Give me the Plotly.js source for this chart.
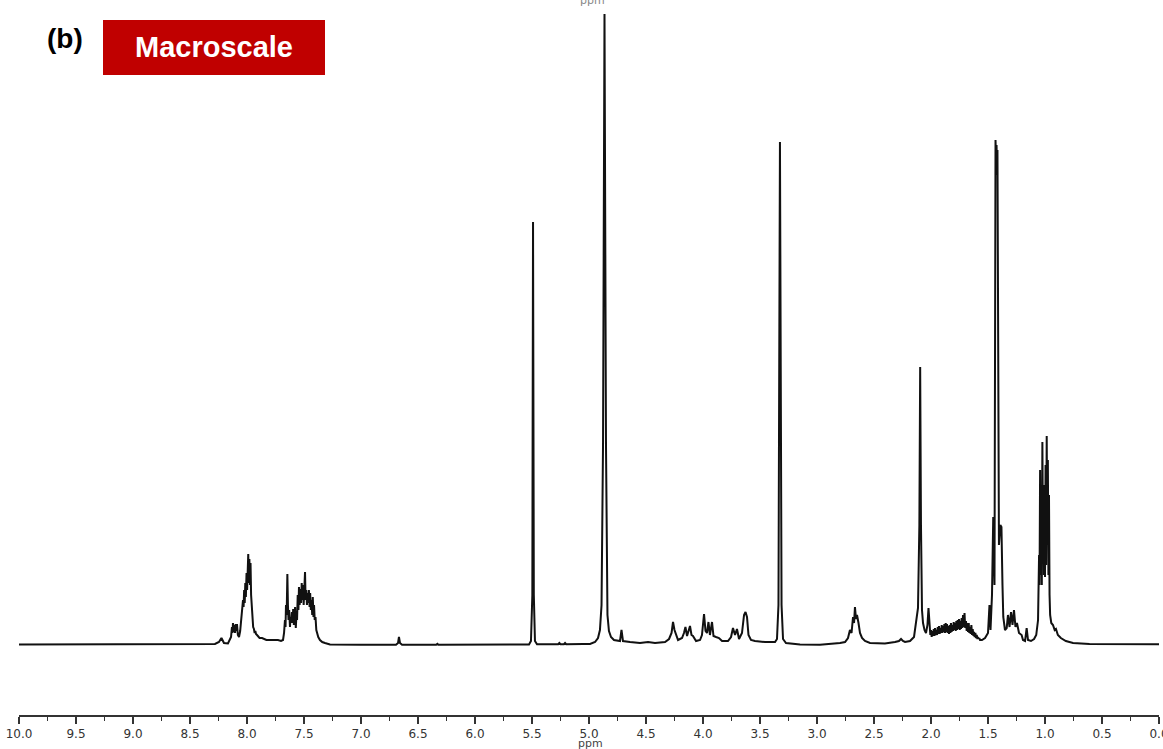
<!DOCTYPE html>
<html>
<head>
<meta charset="utf-8">
<script src="https://cdn.plot.ly/plotly-3.0.1.min.js"></script>
<style>html,body{margin:0;padding:0;background:#fff;}#chart{width:1163px;height:749px;}</style>
</head>
<body>
<div id="chart"></div>
<script>
// Spectrum, as [chemical shift (ppm), intensity (a.u.)], region by region
const baselineHigh = [[10.0,0.5],[9.5,0.5],[9.0,0.3],[8.5,0.5],[8.30,0.5],[8.281,1],[8.246,3],[8.224,7],[8.202,2],[8.167,1.5]];
const aromatic80 = [
[8.140,8],[8.132,18],[8.127,12],[8.123,22],[8.117,13],[8.111,20],[8.105,12],[8.099,21],[8.093,14],[8.088,21],
[8.080,10],[8.070,8],[8.060,14],[8.053,22],[8.047,30],[8.041,37],[8.035,45],[8.030,38],[8.025,55],[8.020,42],
[8.015,62],[8.010,48],[8.004,72],[7.999,55],[7.994,85],[7.989,91],[7.984,62],[7.979,86],[7.974,60],[7.969,82],
[7.964,50],[7.958,35],[7.952,25],[7.946,18],[7.939,16],[7.933,12],[7.927,14],[7.921,11],[7.912,10],[7.904,9],
[7.890,7],[7.868,7],[7.830,5],[7.798,5],[7.728,5],[7.702,4]];
const aromatic75 = [
[7.684,5],[7.675,12],[7.667,25],[7.662,18],[7.658,40],[7.652,30],[7.646,71],[7.641,40],[7.636,25],[7.630,35],
[7.623,18],[7.618,28],[7.612,22],[7.606,33],[7.600,22],[7.595,36],[7.589,20],[7.583,30],[7.578,38],[7.572,17],
[7.566,30],[7.561,25],[7.555,50],[7.549,35],[7.544,58],[7.538,40],[7.532,56],[7.526,42],[7.520,62],[7.514,45],
[7.509,60],[7.503,40],[7.497,65],[7.491,73],[7.486,45],[7.480,55],[7.474,40],[7.469,52],[7.463,42],[7.457,55],
[7.451,38],[7.446,52],[7.440,35],[7.434,45],[7.428,30],[7.423,48],[7.417,28],[7.412,40],[7.406,25],[7.399,28],
[7.392,15],[7.386,12],[7.375,8],[7.360,5],[7.340,3],[7.316,2],[7.272,0.5]];
const midField = [
[7.0,0.3],[6.693,0.3],[6.675,2],[6.667,8],[6.658,2],[6.640,0.3],[6.34,0.3],[6.33,1.2],[6.32,0.3],[6.10,0.3],
[6.09,1],[6.08,0.3],[5.80,0.3],[5.526,0.5],[5.509,4],[5.497,50],[5.491,423],[5.484,50],[5.474,4],[5.456,0.8],
[5.27,0.8],[5.26,2],[5.25,0.8],[5.22,0.8],[5.21,2],[5.20,0.8],[5.05,1],[4.991,1],[4.947,3],[4.921,7],
[4.904,15],[4.890,40],[4.877,200],[4.864,631],[4.851,200],[4.838,30],[4.825,14],[4.807,8],[4.781,5],[4.746,4],
[4.728,4],[4.715,15],[4.702,4],[4.640,3],[4.553,2],[4.482,3],[4.421,2],[4.333,3]];
const multiplets40 = [
[4.298,6],[4.276,12],[4.263,23],[4.250,15],[4.237,10],[4.219,5],[4.184,7],[4.167,12],[4.154,18],[4.140,9],
[4.127,14],[4.114,19],[4.101,10],[4.088,9],[4.061,4],[4.026,5],[4.009,10],[3.991,31],[3.978,14],[3.965,12],
[3.952,23],[3.939,10],[3.921,23],[3.908,9],[3.886,8],[3.860,7],[3.833,4],[3.781,4],[3.754,8],[3.737,17],
[3.719,10],[3.702,16],[3.684,6],[3.658,12],[3.640,30],[3.627,33],[3.614,28],[3.601,10],[3.579,5],[3.544,4],
[3.456,3],[3.368,3],[3.351,6],[3.338,40],[3.325,503],[3.311,40],[3.298,6],[3.272,2],[3.149,0.5],[2.974,0.3]];
const multiplets26 = [
[2.798,2],[2.754,3],[2.728,7],[2.711,15],[2.697,12],[2.684,28],[2.675,22],[2.667,38],[2.658,26],[2.649,30],
[2.636,22],[2.623,12],[2.605,7],[2.579,4],[2.535,2],[2.404,1.5],[2.316,3],[2.281,4],[2.263,6],[2.246,4],
[2.228,3],[2.184,4],[2.149,8],[2.127,25],[2.114,37],[2.102,120],[2.095,278],[2.088,120],[2.079,35],[2.070,22],
[2.057,15],[2.044,12],[2.031,20],[2.022,37]];
const band20to16 = [
[2.013,18],[2.006,10],[2.000,15],[1.994,8],[1.988,14],[1.982,9],[1.976,16],[1.970,9],[1.965,17],[1.959,10],
[1.953,15],[1.947,10],[1.941,18],[1.935,11],[1.930,19],[1.924,11],[1.918,17],[1.912,12],[1.906,20],[1.900,12],
[1.895,19],[1.889,13],[1.883,21],[1.877,12],[1.871,22],[1.865,13],[1.860,21],[1.854,12],[1.848,19],[1.842,11],
[1.836,20],[1.830,12],[1.825,22],[1.819,13],[1.813,20],[1.807,14],[1.801,23],[1.795,15],[1.789,22],[1.783,14],
[1.778,24],[1.772,15],[1.766,25],[1.760,16],[1.754,26],[1.748,15],[1.742,24],[1.737,16],[1.731,27],[1.725,17],
[1.719,30],[1.713,18],[1.706,32],[1.700,17],[1.693,24],[1.687,14],[1.681,22],[1.675,13],[1.669,22],[1.664,12],
[1.658,18],[1.652,11],[1.646,20],[1.640,10],[1.634,16],[1.628,9],[1.623,13],[1.617,8],[1.611,12],[1.605,7],
[1.599,10],[1.593,6],[1.588,8],[1.582,6],[1.576,7],[1.570,5],[1.560,5],[1.553,5]];
const highField = [
[1.526,7],[1.500,12],[1.487,40],[1.478,15],[1.465,50],[1.454,128],[1.443,60],[1.434,505],[1.429,480],[1.425,500],
[1.421,470],[1.417,495],[1.404,100],[1.392,120],[1.382,118],[1.373,60],[1.366,28],[1.351,15],[1.336,17],[1.325,30],
[1.311,18],[1.298,33],[1.285,20],[1.272,35],[1.259,18],[1.246,22],[1.228,12],[1.205,10],[1.193,5],[1.175,4],
[1.161,17],[1.149,5],[1.123,4],[1.096,6],[1.077,10],[1.061,25],[1.052,90],[1.048,60],[1.043,175],[1.038,70],
[1.033,140],[1.028,60],[1.023,203],[1.018,110],[1.013,160],[1.009,70],[1.004,150],[1.000,68],[0.995,180],[0.990,80],
[0.985,209],[0.980,100],[0.975,185],[0.970,70],[0.965,150],[0.960,50],[0.955,30],[0.945,22],[0.930,20],[0.915,15],
[0.904,16],[0.887,10],[0.861,7],[0.817,4],[0.754,2],[0.61,1],[0.3,0.8],[0.0,0.8]];

// Axis tick positions and labels
const tickValues = [10.0,9.5,9.0,8.5,8.0,7.5,7.0,6.5,6.0,5.5,5.0,4.5,4.0,3.5,3.0,2.5,2.0,1.5,1.0,0.5,0.0];
const tickLabels = ["10.0","9.5","9.0","8.5","8.0","7.5","7.0","6.5","6.0","5.5","5.0","4.5","4.0","3.5","3.0","2.5","2.0","1.5","1.0","0.5","0.0"];
const panelLabel = "(b)";
const scaleLabel = "Macroscale";
const axisLabel = "ppm";

const points = [].concat(baselineHigh, aromatic80, aromatic75, midField, multiplets40, multiplets26, band20to16, highField);

const trace = {
  x: points.map(p => p[0]), y: points.map(p => p[1]), type: 'scatter', mode: 'lines',
  line: {color: '#111111', width: 2}, hoverinfo: 'skip', showlegend: false
};

const layout = {
  width: 1163, height: 749,
  margin: {l: 19, r: 4, t: 13, b: 34},
  paper_bgcolor: '#ffffff', plot_bgcolor: '#ffffff',
  showlegend: false,
  xaxis: {
    range: [10, 0],
    tickmode: 'array', tickvals: tickValues, ticktext: tickLabels,
    ticks: 'outside', ticklen: 7, tickwidth: 1.5, tickcolor: '#333333',
    ticklabeloverflow: 'allow',
    showline: true, linecolor: '#333333', linewidth: 1.5,
    showgrid: false, zeroline: false,
    tickfont: {family: 'DejaVu Sans', size: 12, color: '#333333'},
    minor: {tickmode: 'linear', tick0: 0, dtick: 0.25, ticks: 'outside', ticklen: 4, tickwidth: 1.3, tickcolor: '#333333', showgrid: false}
  },
  yaxis: {range: [-70, 632], visible: false, showgrid: false, zeroline: false},
  shapes: [
    {type: 'rect', xref: 'paper', yref: 'paper', x0: (103-19)/1140, x1: (325-19)/1140, y0: (715-75)/702, y1: (715-20)/702,
     fillcolor: '#c00000', line: {width: 0}, layer: 'above'}
  ],
  annotations: [
    {text: panelLabel, xref: 'paper', yref: 'paper', x: (65-19)/1140, y: (715-38)/702, xanchor: 'center', yanchor: 'middle',
     showarrow: false, font: {family: 'Liberation Sans, Arial', size: 28, color: '#000000', weight: 'bold'}},
    {text: scaleLabel, xref: 'paper', yref: 'paper', x: (214-19)/1140, y: (715-47)/702, xanchor: 'center', yanchor: 'middle',
     showarrow: false, font: {family: 'Liberation Sans, Arial', size: 29, color: '#ffffff', weight: 'bold'}},
    {text: axisLabel, xref: 'paper', yref: 'paper', x: (590-19)/1140, y: (715-743)/702, xanchor: 'center', yanchor: 'middle',
     showarrow: false, font: {family: 'DejaVu Sans', size: 11, color: '#444444'}},
    {text: axisLabel, xref: 'paper', yref: 'paper', x: (592-19)/1140, y: (715-9)/702, xanchor: 'center', yanchor: 'bottom',
     showarrow: false, font: {family: 'DejaVu Sans', size: 11, color: '#888888'}}
  ]
};

Plotly.newPlot('chart', [trace], layout, {staticPlot: true, displayModeBar: false});
</script>
</body>
</html>
